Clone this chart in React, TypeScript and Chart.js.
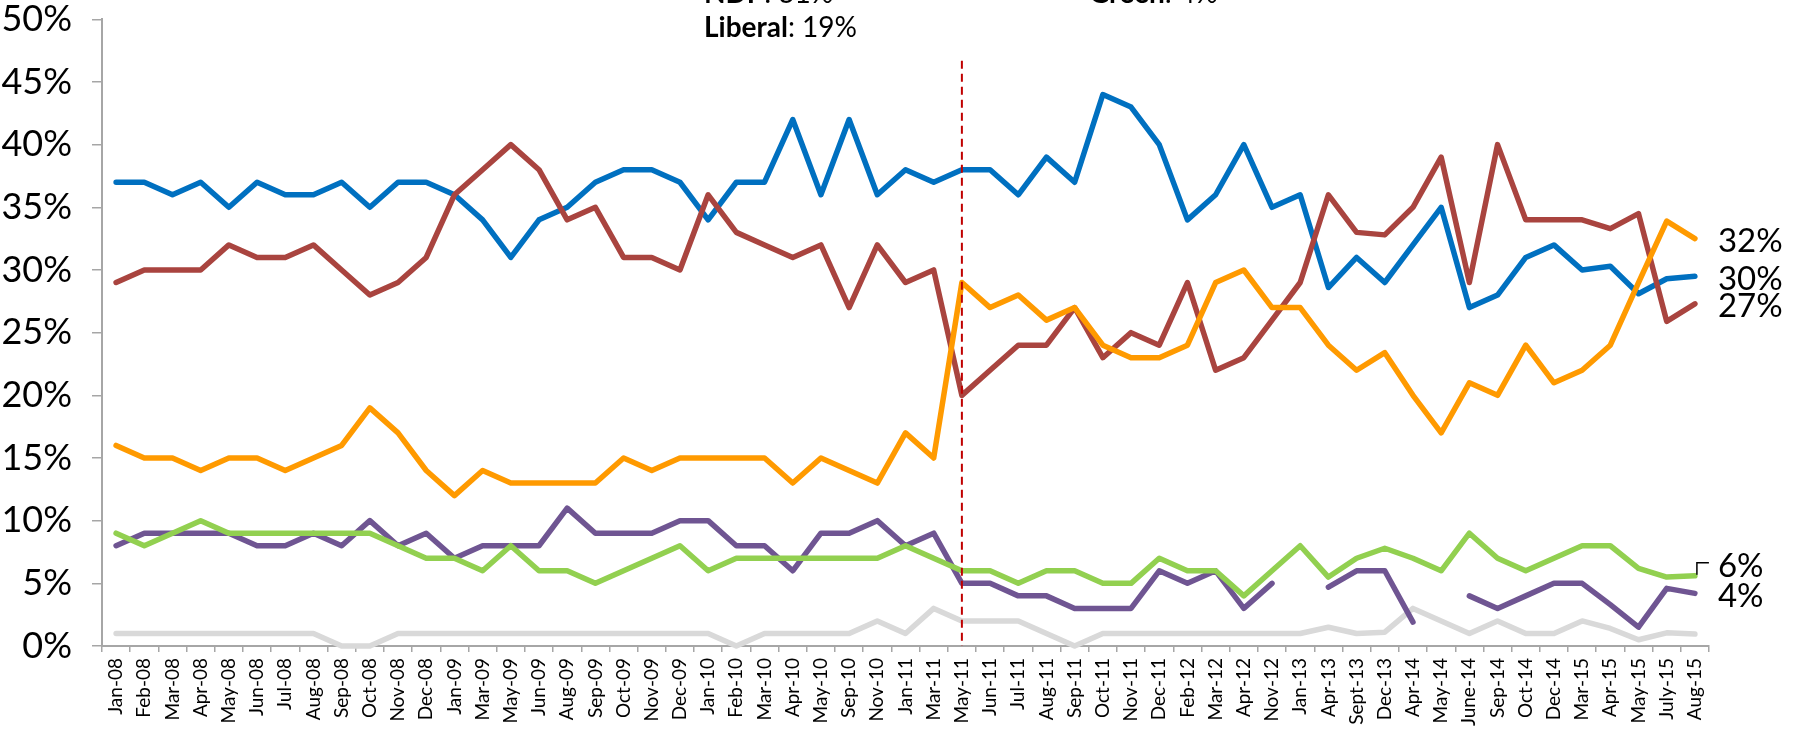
import React, { useEffect, useRef } from "react";
import { Chart, registerables } from "chart.js";

Chart.register(...registerables);

const categories = [
  "Jan-08", "Feb-08", "Mar-08", "Apr-08", "May-08", "Jun-08", "Jul-08", "Aug-08", "Sep-08", "Oct-08",
  "Nov-08", "Dec-08", "Jan-09", "Mar-09", "May-09", "Jun-09", "Aug-09", "Sep-09", "Oct-09", "Nov-09",
  "Dec-09", "Jan-10", "Feb-10", "Mar-10", "Apr-10", "May-10", "Sep-10", "Nov-10", "Jan-11", "Mar-11",
  "May-11", "Jun-11", "Jul-11", "Aug-11", "Sep-11", "Oct-11", "Nov-11", "Dec-11", "Feb-12", "Mar-12",
  "Apr-12", "Nov-12", "Jan-13", "Apr-13", "Sept-13", "Dec-13", "Apr-14", "May-14", "June-14", "Sep-14",
  "Oct-14", "Dec-14", "Mar-15", "Apr-15", "May-15", "July-15", "Aug-15",
];

const conservative = [
  37, 37, 36, 37, 35, 37, 36, 36, 37, 35,
  37, 37, 36, 34, 31, 34, 35, 37, 38, 38,
  37, 34, 37, 37, 42, 36, 42, 36, 38, 37,
  38, 38, 36, 39, 37, 44, 43, 40, 34, 36,
  40, 35, 36, 28.6, 31, 29, 32, 35, 27, 28,
  31, 32, 30, 30.3, 28.1, 29.3, 29.5,
];

const ndp = [
  29, 30, 30, 30, 32, 31, 31, 32, 30, 28,
  29, 31, 36, 38, 40, 38, 34, 35, 31, 31,
  30, 36, 33, 32, 31, 32, 27, 32, 29, 30,
  20, 22, 24, 24, 27, 23, 25, 24, 29, 22,
  23, 26, 29, 36, 33, 32.8, 35, 39, 29, 40,
  34, 34, 34, 33.3, 34.5, 25.9, 27.3,
];

const liberal = [
  16, 15, 15, 14, 15, 15, 14, 15, 16, 19,
  17, 14, 12, 14, 13, 13, 13, 13, 15, 14,
  15, 15, 15, 15, 13, 15, 14, 13, 17, 15,
  29, 27, 28, 26, 27, 24, 23, 23, 24, 29,
  30, 27, 27, 24, 22, 23.4, 20, 17, 21, 20,
  24, 21, 22, 24, 29, 33.9, 32.5,
];

const green = [
  9, 8, 9, 10, 9, 9, 9, 9, 9, 9,
  8, 7, 7, 6, 8, 6, 6, 5, 6, 7,
  8, 6, 7, 7, 7, 7, 7, 7, 8, 7,
  6, 6, 5, 6, 6, 5, 5, 7, 6, 6,
  4, 6, 8, 5.5, 7, 7.8, 7, 6, 9, 7,
  6, 7, 8, 8, 6.2, 5.5, 5.6,
];

const bloc = [
  8, 9, 9, 9, 9, 8, 8, 9, 8, 10,
  8, 9, 7, 8, 8, 8, 11, 9, 9, 9,
  10, 10, 8, 8, 6, 9, 9, 10, 8, 9,
  5, 5, 4, 4, 3, 3, 3, 6, 5, 6,
  3, 5, null, 4.7, 6, 6, 1.9, null, 4, 3,
  4, 5, 5, 3.3, 1.5, 4.6, 4.2,
];

const other = [
  1, 1, 1, 1, 1, 1, 1, 1, 0, 0,
  1, 1, 1, 1, 1, 1, 1, 1, 1, 1,
  1, 1, 0, 1, 1, 1, 1, 2, 1, 3,
  2, 2, 2, 1, 0, 1, 1, 1, 1, 1,
  1, 1, 1, 1.5, 1, 1.1, 3, 2, 1, 2,
  1, 1, 2, 1.4, 0.5, 1.05, 0.95,
];

const yTicks = [0, 5, 10, 15, 20, 25, 30, 35, 40, 45, 50];

// End-of-line labels per series (null = no label)
const seriesNames = ["Conservative", "NDP", "Liberal", "Green", "Bloc", "Other"];
const seriesColors = ["#0070C0", "#A9443F", "#FF9A00", "#92D050", "#6F5592", "#D9D9D9"];
const endLabels = ["30%", "27%", "32%", "6%", "4%", null];

// Election (May 2011) marker and result annotation
const electionCategory = "May-11";
const electionLineTopValue = 46.7;
const annotationParties = ["NDP", "Liberal", "Green"];
const annotationValues = [": 31%", ": 19%", ": 4%"];

export default function App() {
  const ref = useRef<HTMLCanvasElement | null>(null);

  useEffect(() => {
    const canvas = ref.current;
    if (!canvas) return;

    const seriesData = [conservative, ndp, liberal, green, bloc, other];

    const overlay = {
      id: "overlay",
      afterDatasetsDraw(chart: any) {
        const ctx = chart.ctx as CanvasRenderingContext2D;
        const xs = chart.scales.x;
        const ys = chart.scales.y;

        // dashed election line
        const ex = xs.getPixelForValue(categories.indexOf(electionCategory));
        ctx.save();
        ctx.strokeStyle = "#C00000";
        ctx.lineWidth = 2;
        ctx.setLineDash([8, 5]);
        ctx.beginPath();
        ctx.moveTo(ex, ys.getPixelForValue(electionLineTopValue));
        ctx.lineTo(ex, ys.getPixelForValue(0));
        ctx.stroke();
        ctx.restore();

        // end labels
        ctx.save();
        ctx.font = "33px Lato";
        ctx.fillStyle = "#000";
        ctx.textAlign = "left";
        ctx.textBaseline = "alphabetic";
        seriesData.forEach((arr, i) => {
          const label = endLabels[i];
          if (!label) return;
          const meta = chart.getDatasetMeta(i);
          let last = arr.length - 1;
          while (last >= 0 && arr[last] == null) last--;
          const pt = meta.data[last];
          if (!pt) return;
          let cy = pt.y + 1.5;
          if (label === "6%") {
            cy = pt.y - 11;
            ctx.save();
            ctx.strokeStyle = "#000";
            ctx.lineWidth = 1.5;
            ctx.beginPath();
            ctx.moveTo(pt.x + 2, pt.y - 1);
            ctx.lineTo(pt.x + 2, pt.y - 13);
            ctx.lineTo(pt.x + 14, pt.y - 13);
            ctx.stroke();
            ctx.restore();
          }
          ctx.fillText(label, pt.x + 23, cy + 12);
        });
        ctx.restore();

        // annotation text (partly above the top edge)
        ctx.save();
        ctx.fillStyle = "#000";
        ctx.textBaseline = "alphabetic";
        ctx.textAlign = "left";
        const pos = [
          [704, 3],
          [704, 37],
          [1089, 3],
        ];
        annotationParties.forEach((p, i) => {
          const [x, y] = pos[i];
          ctx.font = "bold 28px Lato";
          ctx.fillText(p, x, y);
          const w = ctx.measureText(p).width;
          ctx.font = "28px Lato";
          ctx.fillText(annotationValues[i], x + w, y);
        });
        ctx.restore();
      },
    };

    const order = [2, 1, 0, 3, 4, 5];
    const chart = new Chart(canvas, {
      type: "line",
      data: {
        labels: categories,
        datasets: seriesData.map((d, i) => ({
          label: seriesNames[i],
          data: d,
          borderColor: seriesColors[i],
          backgroundColor: seriesColors[i],
          borderWidth: 5.5,
          pointRadius: 0,
          pointHoverRadius: 0,
          tension: 0,
          fill: false,
          spanGaps: false,
          borderJoinStyle: "round" as const,
          borderCapStyle: "round" as const,
          clip: false as any,
          order: order[i],
        })),
      },
      options: {
        responsive: false,
        animation: false,
        devicePixelRatio: 1,
        layout: { padding: { top: 0, right: 87, left: 0, bottom: 0 } },
        plugins: {
          legend: { display: false },
          tooltip: { enabled: false },
        },
        scales: {
          x: {
            type: "category",
            offset: true,
            ticks: {
              autoSkip: false,
              maxRotation: 90,
              minRotation: 90,
              font: { family: "Lato", size: 19 },
              color: "#000",
              padding: 6,
            },
            grid: {
              offset: true,
              drawOnChartArea: false,
              drawTicks: true,
              tickLength: 6,
              color: "#A6A6A6",
              lineWidth: 1.5,
            },
            border: { color: "#A6A6A6", width: 2 },
            afterFit: (s: any) => {
              s.height = 83;
            },
          },
          y: {
            min: 0,
            max: 50,
            afterBuildTicks: (s: any) => {
              s.ticks = yTicks.map((v) => ({ value: v }));
            },
            ticks: {
              callback: (v: any) => v + "%",
              font: { family: "Lato", size: 36 },
              color: "#000",
              padding: 20,
            },
            grid: {
              drawOnChartArea: false,
              drawTicks: true,
              tickLength: 10,
              color: "#A6A6A6",
              lineWidth: 1.5,
            },
            border: { color: "#A6A6A6", width: 2 },
            afterFit: (s: any) => {
              s.width = 102;
              s.paddingTop = 19.3;
              s.paddingBottom = 0;
            },
          },
        },
      },
      plugins: [overlay],
    } as any);

    return () => chart.destroy();
  }, []);

  return (
    <div style={{ position: "fixed", left: 0, top: 0, width: 1796, height: 729, background: "#fff" }}>
      <canvas ref={ref} width={1796} height={729} style={{ display: "block", width: 1796, height: 729 }} />
    </div>
  );
}
